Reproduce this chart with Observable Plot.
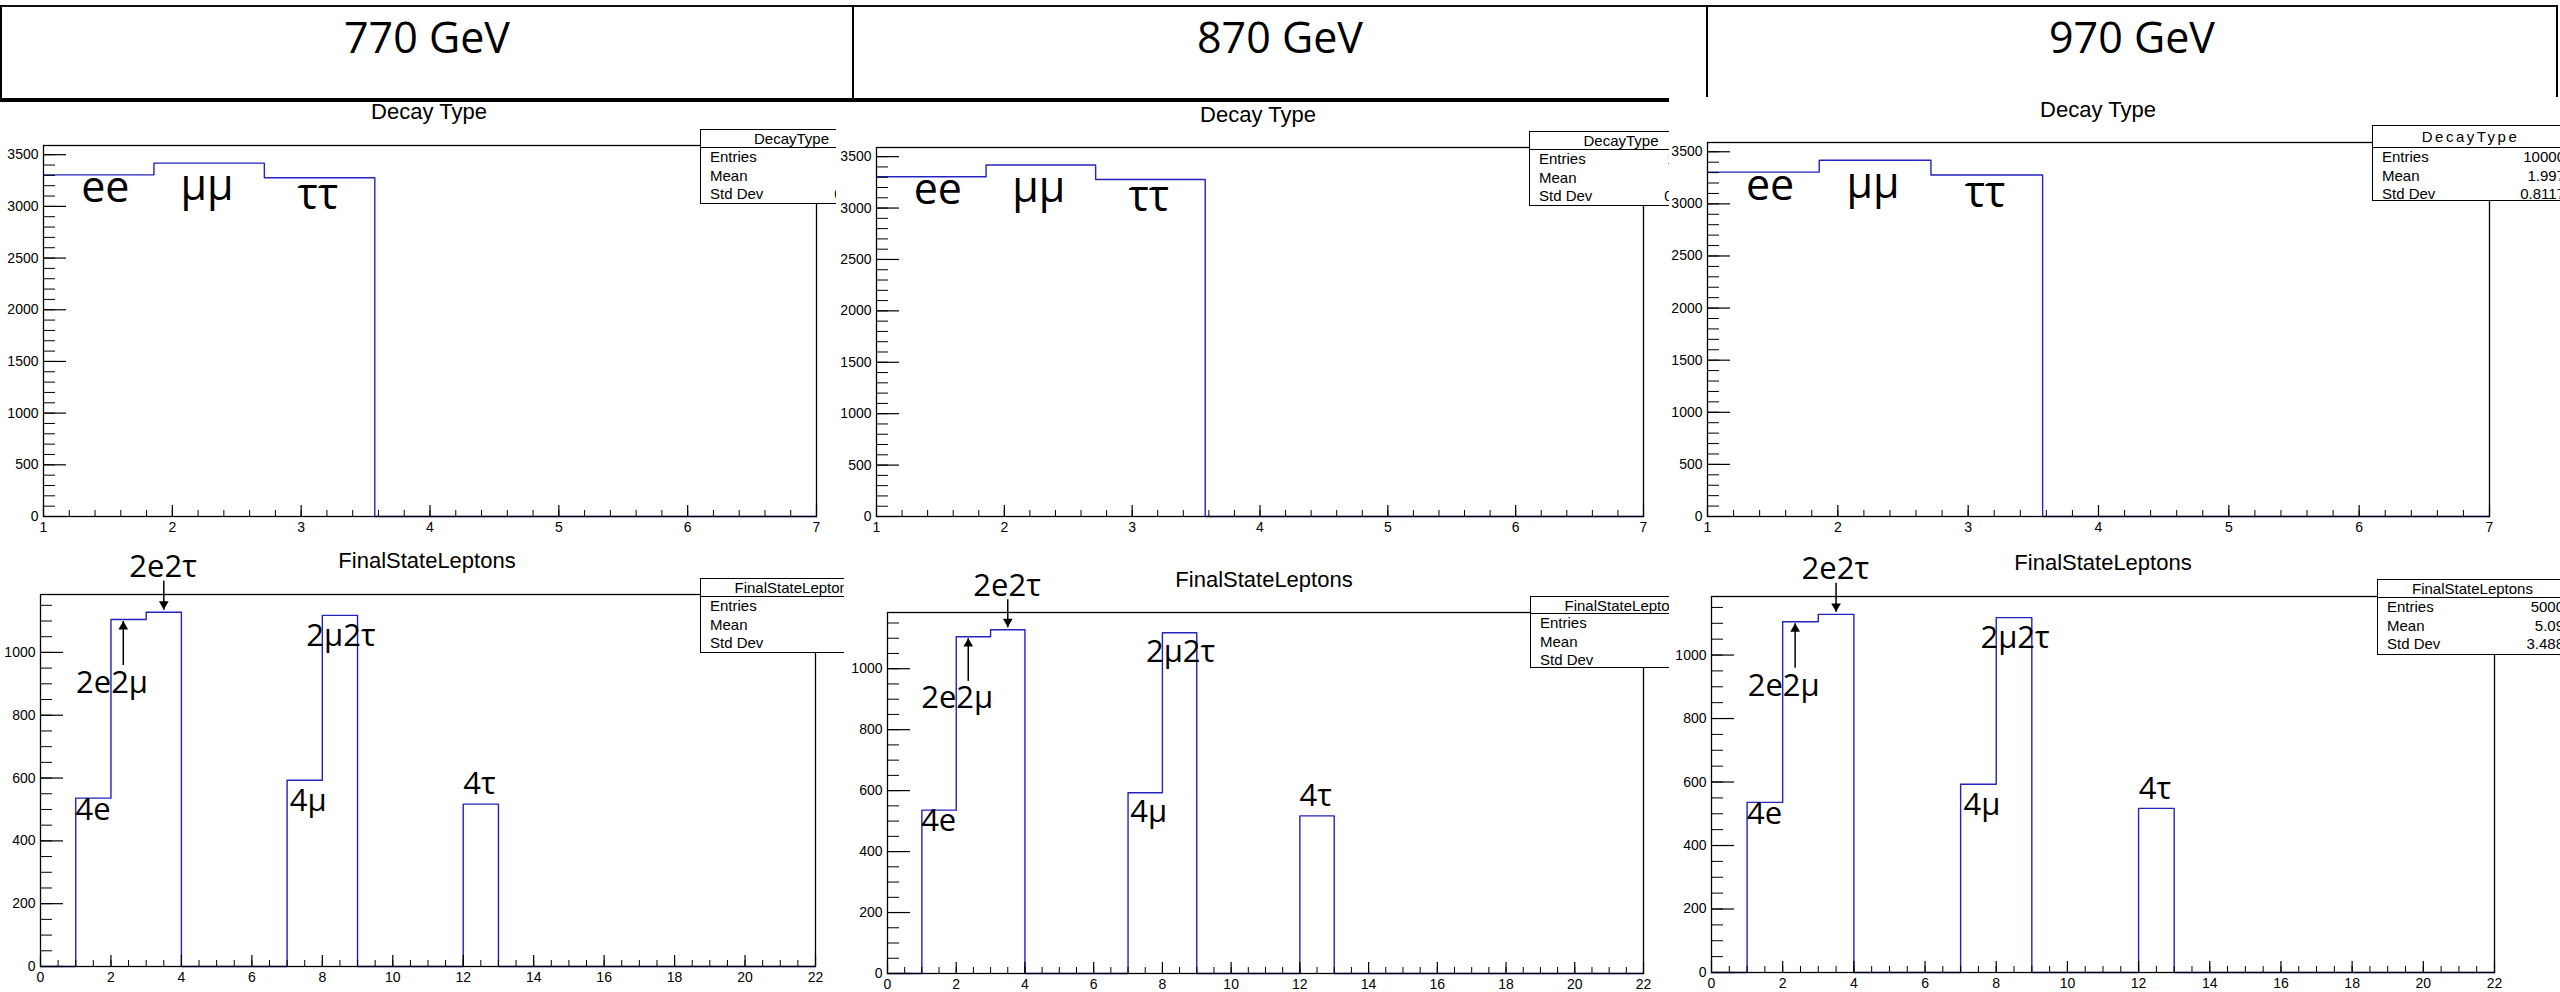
<!DOCTYPE html>
<html><head><meta charset="utf-8">
<script src="https://cdn.jsdelivr.net/npm/d3@7"></script>
<script src="https://cdn.jsdelivr.net/npm/@observablehq/plot@0.6"></script>
<style>
html,body{margin:0;padding:0;background:#fff}
body{width:2560px;height:992px;overflow:hidden;position:relative;font-family:"Liberation Sans",Arial,sans-serif;color:#000}
.hdr{position:absolute;font-family:"Open Sans",sans-serif;font-size:43px;line-height:43px;white-space:nowrap;transform:translateX(-50%)}
.ttl{position:absolute;font-size:22px;line-height:22px;white-space:nowrap;transform:translateX(-50%)}
.canvas{position:absolute;overflow:hidden;background:#fff}
.canvas svg{position:absolute;left:0;top:0;max-width:none!important}
.row{position:absolute;left:0;right:0;height:18px;line-height:18px;font-size:15px}
</style></head>
<body>
<div id="root"></div>
<script>
// ---------------- data ----------------
const energies = ["770 GeV", "870 GeV", "970 GeV"];

const decayTypes = ["ee", "μμ", "ττ"];
const decayBinIndex = [0, 1, 2];
const decayCounts = [3305, 3418, 3277];
const decayRange = [1, 7];
const decayNBins = 7;
const decayXTicks = [1, 2, 3, 4, 5, 6, 7];
const decayYTicks = [0, 500, 1000, 1500, 2000, 2500, 3000, 3500];

const leptonStates = ["4e", "2e2μ", "2e2τ", "4μ", "2μ2τ", "4τ"];
const leptonBinIndex = [1, 2, 3, 7, 8, 12];
const leptonCounts = [536, 1105, 1128, 593, 1118, 517];
const leptonRange = [0, 22];
const leptonNBins = 22;
const leptonXTicks = [0, 2, 4, 6, 8, 10, 12, 14, 16, 18, 20, 22];
const leptonYTicks = [0, 200, 400, 600, 800, 1000];

const statNames = ["Entries", "Mean", "Std Dev"];
const decayStatValues = ["10000", "1.997", "0.8117"];
const leptonStatValues = ["5000", "5.09", "3.488"];

// annotation anchor points (data units)
const decayLabelX = [1.48, 2.27, 3.13];
const decayLabelY = [3040, 3058, 2972];
const leptonLabelX = [1.49, 2.03, 3.48, 7.6, 8.53, 12.46];
const leptonLabelY = [467, 870, 1240, 496, 1022, 548];
const arrowX = [2.35, 3.5];
const arrowFrom = [960, 1228];
const arrowTo = [1100, 1136];

// ---------------- layout (page pixels) ----------------
const BLUE = "#2323bd";
const layout = [
  {kind: "decay", canvas: [0, 102, 836, 545], frame: [43, 816, 145, 516], box: [700, 883, 129, 147, 204], title: [429, 120], spacing: 0},
  {kind: "decay", canvas: [836, 102, 1669, 545], frame: [876, 1643, 147, 516], box: [1529, 1713, 131, 149, 206], title: [1258, 123], spacing: 0},
  {kind: "decay", canvas: [1669, 102, 2560, 545], frame: [1707, 2489, 142, 516], box: [2372, 2569, 125, 147, 201], title: [2098, 118], spacing: 2.5},
  {kind: "lepton", canvas: [0, 545, 844, 992], frame: [40, 815, 594, 966], box: [700, 890, 578, 596, 653], title: [427, 569], spacing: 0},
  {kind: "lepton", canvas: [844, 545, 1669, 992], frame: [887, 1643, 612, 973], box: [1530, 1720, 596, 613, 668], title: [1264, 588], spacing: 0},
  {kind: "lepton", canvas: [1669, 545, 2560, 992], frame: [1711, 2494, 596, 972], box: [2377, 2568, 579, 597, 655], title: [2103, 571], spacing: 0}
];

const root = document.getElementById("root");

function el(tag, css, parent, text) {
  const e = document.createElement(tag);
  e.style.cssText = css;
  if (text != null) e.textContent = text;
  (parent || root).appendChild(e);
  return e;
}

// ---------------- header boxes ----------------
el("div", "position:absolute;left:0;top:5px;width:2558px;height:2px;background:#111");
[[0, 100], [852, 100], [1706, 97], [2556, 97]].forEach(([x, b]) =>
  el("div", `position:absolute;left:${x}px;top:5px;width:2px;height:${b - 5}px;background:#000`));
el("div", "position:absolute;left:0;top:98px;width:1669px;height:4px;background:#000");
const hdrCenters = [427, 1280, 2132];
energies.forEach((t, i) => {
  const d = el("div", `left:${hdrCenters[i]}px;top:${53 - 0.888 * 43}px`, root, t);
  d.className = "hdr";
});

// ---------------- histogram helper ----------------
function histPoints(range, nBins, binIdx, counts) {
  const w = (range[1] - range[0]) / nBins;
  const vals = new Array(nBins).fill(0);
  binIdx.forEach((b, i) => { vals[b] = counts[i]; });
  const pts = vals.map((v, i) => ({x: range[0] + i * w, y: v}));
  pts.push({x: range[1], y: vals[nBins - 1]});
  return pts;
}

// ---------------- panels ----------------
layout.forEach(cfg => {
  const [cl, ct, cr, cb] = cfg.canvas;
  const [fl, fr, ft, fb] = cfg.frame;
  const W = cr - cl, H = cb - ct, fw = fr - fl, fh = fb - ft;
  const isDecay = cfg.kind === "decay";
  const counts = isDecay ? decayCounts : leptonCounts;
  const range = isDecay ? decayRange : leptonRange;
  const pts = isDecay
    ? histPoints(decayRange, decayNBins, decayBinIndex, decayCounts)
    : histPoints(leptonRange, leptonNBins, leptonBinIndex, leptonCounts);
  const ymax = 1.05 * d3.max(counts);
  const majorX = isDecay ? decayXTicks : leptonXTicks;
  const majorY = isDecay ? decayYTicks : leptonYTicks;
  const minorX = isDecay ? d3.range(1, 7.001, 0.2) : d3.range(0, 22.001, 0.5);
  const minorY = isDecay ? d3.range(0, ymax, 100) : d3.range(0, ymax, 50);

  const marks = [
    Plot.line(pts, {x: "x", y: "y", curve: "step-after", stroke: BLUE, strokeWidth: 1.4}),
    Plot.tickX(minorX, {x: d => d, stroke: "#000", strokeWidth: 1, insetTop: fh - 6}),
    Plot.tickX(majorX, {x: d => d, stroke: "#000", strokeWidth: 1.2, insetTop: fh - 11}),
    Plot.tickY(minorY, {y: d => d, stroke: "#000", strokeWidth: 1, insetRight: fw - 12}),
    Plot.tickY(majorY, {y: d => d, stroke: "#000", strokeWidth: 1.2, insetRight: fw - 23}),
    Plot.frame({stroke: "#000", strokeWidth: 1.3}),
    Plot.axisX({ticks: majorX, tickSize: 0, tickPadding: 6, label: null, tickFormat: d => String(d)}),
    Plot.axisY({ticks: majorY, tickSize: 0, tickPadding: 5, label: null, tickFormat: d => String(d)})
  ];
  if (isDecay) {
    marks.push(Plot.text(decayTypes, {
      x: (d, i) => decayLabelX[i], y: (d, i) => decayLabelY[i], text: d => d,
      lineAnchor: "bottom", fontSize: 43, fontFamily: "Open Sans", fill: "#000"
    }));
  } else {
    marks.push(Plot.text(leptonStates, {
      x: (d, i) => leptonLabelX[i], y: (d, i) => leptonLabelY[i], text: d => d,
      lineAnchor: "bottom", fontSize: 31, fontFamily: "Open Sans", fill: "#000"
    }));
    marks.push(Plot.link(arrowX, {
      x1: d => d, x2: d => d, y1: (d, i) => arrowFrom[i], y2: (d, i) => arrowTo[i],
      stroke: "#000", strokeWidth: 1.5
    }));
    marks.push(Plot.dot(arrowX, {
      filter: (d, i) => arrowTo[i] > arrowFrom[i],
      x: d => d, y: (d, i) => arrowTo[i], symbol: "triangle", r: 3.6, fill: "#000", stroke: "none", dy: 5.6
    }));
    marks.push(Plot.dot(arrowX, {
      filter: (d, i) => arrowTo[i] < arrowFrom[i],
      x: d => d, y: (d, i) => arrowTo[i], symbol: "triangle", rotate: 180, r: 3.6, fill: "#000", stroke: "none", dy: -5.6
    }));
  }

  const svg = Plot.plot({
    width: W, height: H,
    marginLeft: fl - cl, marginRight: cr - fr, marginTop: ft - ct, marginBottom: cb - fb,
    x: {domain: range},
    y: {domain: [0, ymax]},
    style: {fontFamily: "Liberation Sans, Arial, sans-serif", fontSize: "14px", color: "#000", background: "transparent", overflow: "visible"},
    marks
  });

  const wrap = el("div", `left:${cl}px;top:${ct}px;width:${W}px;height:${H}px`);
  wrap.className = "canvas";
  wrap.appendChild(svg);

  // title
  const t = el("div", `left:${cfg.title[0] - cl}px;top:${cfg.title[1] - 18.6 - ct}px`, wrap, isDecay ? "Decay Type" : "FinalStateLeptons");
  t.className = "ttl";

  // stats box
  const [bl, br, bt, hl, bb] = cfg.box;
  const box = el("div", `position:absolute;left:${bl - cl}px;top:${bt - ct}px;width:${br - bl}px;height:${bb - bt}px;border:1px solid #000;background:#fff;box-sizing:border-box`, wrap);
  el("div", `position:absolute;left:0;right:0;top:0;height:${hl - bt}px;line-height:${hl - bt}px;text-align:center;font-size:15px;letter-spacing:${cfg.spacing}px;white-space:nowrap`, box, isDecay ? "DecayType" : "FinalStateLeptons");
  el("div", `position:absolute;left:0;right:0;top:${hl - bt - 1}px;height:1px;background:#000`, box);
  const vals = isDecay ? decayStatValues : leptonStatValues;
  const offs = [9, 27.5, 46];
  statNames.forEach((n, i) => {
    const r = el("div", `top:${hl - bt + offs[i] - 9}px`, box);
    r.className = "row";
    el("span", "position:absolute;left:9px", r, n);
    el("span", "position:absolute;right:3px", r, vals[i]);
  });
});
</script>
</body></html>
